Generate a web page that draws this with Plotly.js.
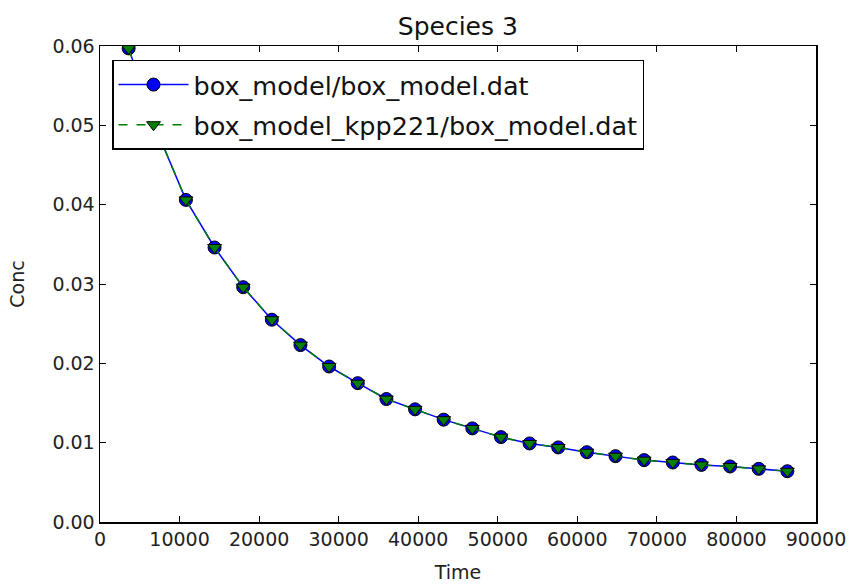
<!DOCTYPE html>
<html>
<head>
<meta charset="utf-8">
<script src="https://cdn.plot.ly/plotly-3.0.1.min.js"></script>
<style>html,body{margin:0;padding:0;background:#fff;}#chart{width:849px;height:586px;}</style>
</head>
<body>
<div id="chart"></div>
<script>
var time = [3600, 7200, 10800, 14400, 18000, 21600, 25200, 28800, 32400, 36000, 39600, 43200, 46800, 50400, 54000, 57600, 61200, 64800, 68400, 72000, 75600, 79200, 82800, 86400];
var concBox = [0.0597, 0.0492, 0.0406, 0.0346, 0.0296, 0.0255, 0.0223, 0.0196, 0.0175, 0.0155, 0.0142, 0.0129, 0.0118, 0.0107, 0.0099, 0.0094, 0.0088, 0.0083, 0.0078, 0.0075, 0.0072, 0.0070, 0.0067, 0.0064];
var concKpp = [0.0597, 0.0492, 0.0406, 0.0346, 0.0296, 0.0255, 0.0223, 0.0196, 0.0175, 0.0155, 0.0142, 0.0129, 0.0118, 0.0107, 0.0099, 0.0094, 0.0088, 0.0083, 0.0078, 0.0075, 0.0072, 0.0070, 0.0067, 0.0064];
var seriesNames = ["box_model/box_model.dat", "box_model_kpp221/box_model.dat"];
var xTicks = [0, 10000, 20000, 30000, 40000, 50000, 60000, 70000, 80000, 90000];
var yTicks = [0.00, 0.01, 0.02, 0.03, 0.04, 0.05, 0.06];

var font = "DejaVu Sans, sans-serif";
var traces = [
  {x: time, y: concBox, name: seriesNames[0], type: "scatter", mode: "lines+markers", legendgroup: "a",
   line: {color: "#0000ff", width: 1.5},
   marker: {symbol: "circle", size: 13, color: "#0000ff", line: {color: "#000", width: 1}}},
  {x: time, y: concKpp, name: seriesNames[1], type: "scatter", mode: "lines+markers", legendgroup: "b",
   line: {color: "#008000", width: 1.5, dash: "dash"},
   marker: {symbol: "triangle-down", size: 12, color: "#008000", line: {color: "#000", width: 1}}}
];
var axisCommon = {showline: true, linecolor: "#000", linewidth: 1.5, mirror: "allticks", ticks: "inside",
  ticklen: 6, tickwidth: 1, tickcolor: "#000", showgrid: false, zeroline: false,
  tickfont: {family: font, size: 19, color: "#222"}};
var layout = {
  width: 849, height: 586,
  margin: {l: 100, r: 33, t: 46, b: 64},
  paper_bgcolor: "#fff", plot_bgcolor: "#fff",
  title: {text: "Species 3", font: {family: font, size: 25, color: "#111"}, x: 0.5393, xanchor: "center", y: 0.955, yanchor: "middle"},
  xaxis: Object.assign({}, axisCommon, {range: [0, 90000], tickvals: xTicks, ticktext: xTicks.map(String),
    title: {text: "Time", font: {family: font, size: 19, color: "#222"}, standoff: 16}}),
  yaxis: Object.assign({}, axisCommon, {range: [0, 0.06], tickvals: yTicks, ticktext: yTicks.map(function(v){return v.toFixed(2);}),
    title: {text: "Conc", font: {family: font, size: 19, color: "#222"}, standoff: 22}}),
  showlegend: true,
  legend: {x: 0.0168, y: 0.9706, xanchor: "left", yanchor: "top", bgcolor: "#fff", bordercolor: "#000", borderwidth: 1.5,
    font: {family: font, size: 25.5, color: "#111"}, itemwidth: 70, tracegroupgap: 4}
};
Plotly.newPlot("chart", traces, layout, {staticPlot: true});
</script>
</body>
</html>
